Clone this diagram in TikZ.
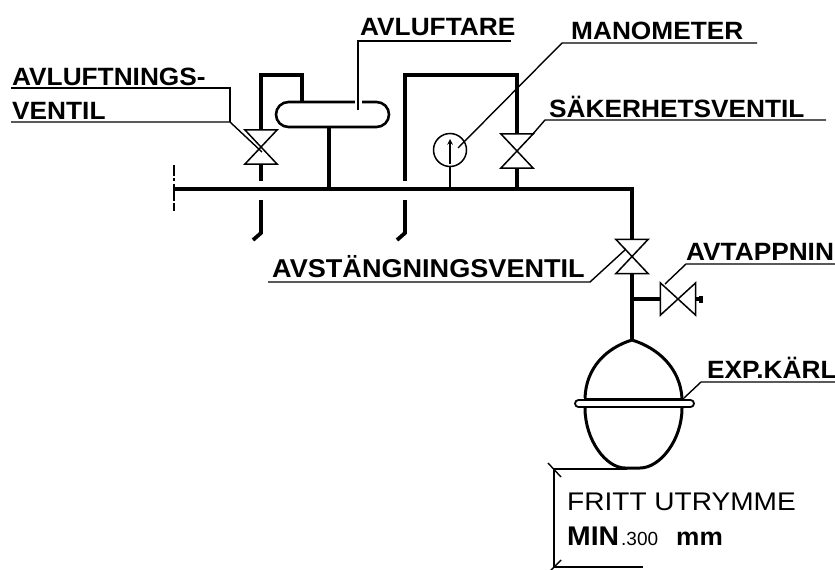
\documentclass[tikz,border=0pt]{standalone}
\usepackage{fontspec}
\usetikzlibrary{shapes.misc}
\newfontfamily\labelfont[FakeStretch=1.05]{Liberation Sans Bold}
\newfontfamily\plainfont[FakeStretch=1.1]{Liberation Sans}
\tikzset{
    pipe/.style={draw=black,line width=3.8pt},
    thinline/.style={draw=black,line width=1.5pt},
    leader/.style={draw=black,line width=1.4pt},
    valvebox/.style={inner sep=0pt,minimum width=32pt,minimum height=34pt},
    hvalvebox/.style={inner sep=0pt,minimum width=35pt,minimum height=32pt},
    labeltext/.style={anchor=base west,inner sep=0pt,font=\labelfont\fontsize{25}{27}\selectfont},
    plaintext/.style={anchor=base west,inner sep=0pt,font=\plainfont\fontsize{25.5}{27}\selectfont}
}

\begin{document}
\begin{tikzpicture}[x=1pt,y=-1pt]
        \useasboundingbox (0,0) rectangle (835,570);
        \clip (0,0) rectangle (835,570);
        % valves and vessels
        \node[valvebox] (avlv) at (261,147) {};
        \node[valvebox] (sakv) at (517,151) {};
        \node[valvebox] (avsv) at (632,256.5) {};
        \node[hvalvebox] (tapv) at (678,299) {};
        \node[rounded rectangle,draw=black,line width=2.6pt,inner sep=0pt,minimum width=113pt,minimum height=25pt] (tank) at (332.5,114.5) {};
        \node[circle,draw=black,line width=1.5pt,inner sep=0pt,minimum size=33pt] (mano) at (450,150) {};
        \node[rounded rectangle,draw=black,line width=1.8pt,inner sep=0pt,minimum width=119pt,minimum height=7pt] (flange) at (634.5,403.5) {};
        \coordinate (mainl) at (174,189);
        \coordinate (mainr) at (632,189);
        \coordinate (mainup) at (174,165);
        \coordinate (maindn) at (174,213);
        \coordinate (avlout) at (261,181);
        \coordinate (avlin) at (261,200);
        \coordinate (avlbend) at (261,233);
        \coordinate (avlend) at (253,240);
        \coordinate (avltop) at (261,75);
        \coordinate (tanktop) at (302,102);
        \coordinate (tankout) at (329,127);
        \coordinate (tankin) at (329,189);
        \coordinate (retout) at (405,181);
        \coordinate (retin) at (405,200);
        \coordinate (retbend) at (405,233);
        \coordinate (retend) at (397,240);
        \coordinate (rettop) at (405,75);
        \coordinate (sakin) at (517,189);
        \coordinate (manoin) at (450,189);
        \coordinate (vestop) at (632,340);
        \coordinate (tapj) at (632,299);
        \coordinate (tapend) at (703,299);
        \coordinate (vesl) at (585,398);
        \coordinate (vesr) at (682,398);
        \coordinate (lowl) at (585,408);
        \coordinate (lowr) at (682,408);
        % pipes
        \draw[pipe] (mainl) -- (mainr) -- (avsv.north);
        \draw[pipe] (avlout) -- (avlv.south);
        \draw[pipe] (avlv.north) -- (avltop) -| (tanktop);
        \draw[pipe] (avlin) -- (avlbend) -- (avlend);
        \draw[pipe] (tankout) -- (tankin);
        \draw[pipe] (retout) -- (rettop) -| (sakv.north);
        \draw[pipe] (retin) -- (retbend) -- (retend);
        \draw[pipe] (sakv.south) -- (sakin);
        \draw[pipe] (avsv.south) -- (vestop);
        \draw[pipe] (tapj) -- (tapv.west);
        \draw[pipe] (tapv.east) -- (tapend);
        \draw[draw=black,line width=7pt] (699,299) -- (tapend);
        \draw[thinline] (mano.south) -- (manoin);
        \draw[thinline,dash pattern=on 11pt off 2pt on 3pt off 3pt on 17pt off 2pt on 8pt off 50pt] (mainup) -- (maindn);
        % valve bodies
        \draw[thinline] (avlv.north west) -- (avlv.north east) -- (avlv.south west) -- (avlv.south east) -- cycle;
        \draw[thinline] (sakv.north west) -- (sakv.north east) -- (sakv.south west) -- (sakv.south east) -- cycle;
        \draw[thinline] (avsv.north west) -- (avsv.north east) -- (avsv.south west) -- (avsv.south east) -- cycle;
        \draw[thinline] (tapv.north west) -- (tapv.south west) -- (tapv.north east) -- (tapv.south east) -- cycle;
        \draw[thinline,->,>=stealth] (450,164) -- (450,139);
        % vessel
        \draw[draw=black,line width=3pt] (vesl) .. controls (586,368) and (606,348) .. (vestop) .. controls (658,348) and (680,368) .. (vesr);
        \draw[draw=black,line width=3pt] (lowl) .. controls (585,440) and (606,468) .. (625,468) -- (640,468) .. controls (660,468) and (682,440) .. (lowr);
        \draw[draw=black,line width=3pt] (584,399.5) -- (684,399.5);
        % labels
        \node[labeltext] (avlutxt) at (12,85) {AVLUFTNINGS-};
        \node[labeltext] (venttxt) at (12,119) {VENTIL};
        \node[labeltext] (tanktxt) at (360,35) {AVLUFTARE};
        \node[labeltext] (manotxt) at (571,39) {MANOMETER};
        \node[labeltext] (saktxt) at (549,117) {SÄKERHETSVENTIL};
        \node[labeltext,font=\labelfont\fontsize{25.8}{27}\selectfont] (avstxt) at (272,277) {AVSTÄNGNINGSVENTIL};
        \node[labeltext] (taptxt) at (686,260) {AVTAPPNIN};
        \node[labeltext] (vestxt) at (707,378) {EXP.KÄRL};
        \node[plaintext] (frittxt) at (567,510) {FRITT UTRYMME};
        \node[labeltext,font=\labelfont\fontsize{27}{29}\selectfont] (mintxt) at (567,545) {MIN};
        \node[anchor=base west,inner sep=0pt,font=\fontspec{Liberation Sans}\fontsize{19}{21}\selectfont] (numtxt) at (621,545) {.300};
        \node[labeltext] (mmtxt) at (676,545) {mm};
        % leaders
        \coordinate (l1a) at (11,88);
        \coordinate (l1b) at (230,88);
        \coordinate (l2a) at (11,122);
        \coordinate (l2b) at (230,122);
        \coordinate (l2c) at (262,152);
        \draw[leader] (l1a) -- (l1b) -- (l2b);
        \draw[leader] (l2a) -- (l2b) -- (l2c);
        \coordinate (l3a) at (358,110);
        \coordinate (l3b) at (358,41);
        \coordinate (l3c) at (511,41);
        \draw[draw=white,line width=4pt] (354.5,102) -- (361.5,102);
        \draw[leader] (l3a) -- (l3b) -- (l3c);
        \coordinate (l4a) at (458,148);
        \coordinate (l4b) at (562,43);
        \coordinate (l4c) at (757,43);
        \draw[leader] (l4a) -- (l4b) -- (l4c);
        \coordinate (l5a) at (532,135);
        \coordinate (l5b) at (545,120);
        \coordinate (l5c) at (826,120);
        \draw[leader] (l5a) -- (l5b) -- (l5c);
        \coordinate (l6a) at (626,249);
        \coordinate (l6b) at (590,282);
        \coordinate (l6c) at (268,282);
        \draw[leader] (l6a) -- (l6b) -- (l6c);
        \coordinate (l7a) at (665,284);
        \coordinate (l7b) at (686,264);
        \coordinate (l7c) at (835,264);
        \draw[leader] (l7a) -- (l7b) -- (l7c);
        \coordinate (l8a) at (684,398);
        \coordinate (l8b) at (701,382);
        \coordinate (l8c) at (835,382);
        \draw[leader] (l8a) -- (l8b) -- (l8c);
        % dimension
        \coordinate (dimtop) at (554,469);
        \coordinate (dimbot) at (554,567);
        \coordinate (dimtopr) at (627,469);
        \coordinate (dimbotr) at (643,567);
        \draw[leader] (dimtopr) -- (dimtop) -- (dimbot) -- (dimbotr);
        \draw[leader] (548,463) -- (561,477);
        \draw[leader] (548,573) -- (561,560);
     \end{tikzpicture}
\end{document}
